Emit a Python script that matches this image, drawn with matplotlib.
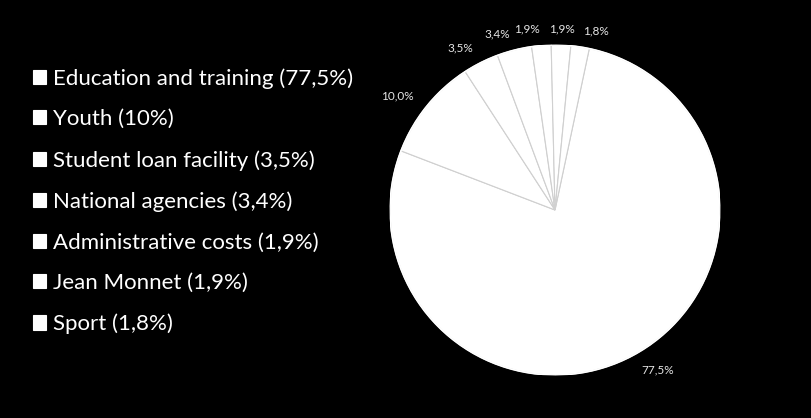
import matplotlib.pyplot as plt
from matplotlib.patches import Circle

categories = ['Education and training', 'Youth', 'Student loan facility',
              'National agencies', 'Administrative costs', 'Jean Monnet', 'Sport']
shares = [77.5, 10.0, 3.5, 3.4, 1.9, 1.9, 1.8]
legend_pcts = ['77,5%', '10%', '3,5%', '3,4%', '1,9%', '1,9%', '1,8%']

plt.rcParams['font.family'] = ['Lato', 'DejaVu Sans']

W, H = 812, 418
fig = plt.figure(figsize=(W / 100, H / 100), dpi=100, facecolor='black')

# pie centre and radius in pixels
cx, cy, r = 555, 210, 165
ax = fig.add_axes([(cx - r) / W, (H - cy - r) / H, 2 * r / W, 2 * r / H])
ax.set_facecolor('black')

pie_labels = [f'{v:.1f}'.replace('.', ',') + '%' for v in shares]
wedges, texts = ax.pie(shares, labels=pie_labels, startangle=78, counterclock=False,
                       labeldistance=1.1, radius=1,
                       colors=['white'] * len(shares),
                       wedgeprops=dict(edgecolor='#d0d0d0', linewidth=0.8),
                       textprops=dict(color='#e6e6e6', fontsize=8.5))
# Jean Monnet label centred over its thin slice so the three small ones line up
texts[5].set_ha('center')
# keep the outer rim white like the original
ax.add_patch(Circle((0, 0), 1, fill=False, edgecolor='white', linewidth=1.2))
ax.set_xlim(-1, 1)
ax.set_ylim(-1, 1)
ax.set_aspect('equal')
ax.axis('off')

legend_labels = [f'{c} ({p})' for c, p in zip(categories, legend_pcts)]
leg = fig.legend(wedges, legend_labels, loc='upper left',
                 bbox_to_anchor=(13 / W, 1 - 48 / H), frameon=False,
                 fontsize=16, labelcolor='white', handlelength=0.6,
                 handleheight=0.6, handletextpad=0.3, labelspacing=0.93)
for h in leg.legend_handles:
    h.set_edgecolor('white')

fig.savefig('out.png', dpi=100, facecolor='black')
